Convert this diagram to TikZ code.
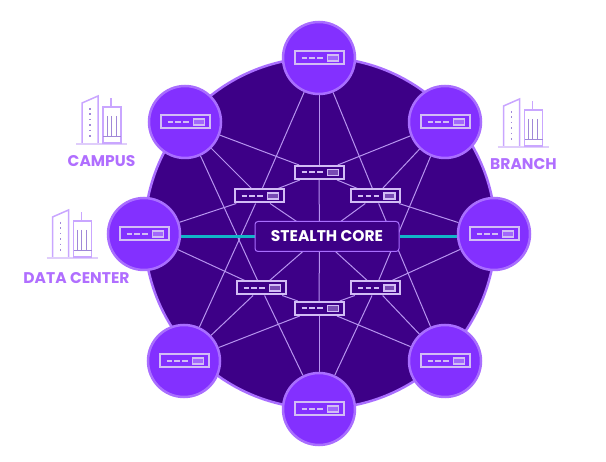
\documentclass[tikz,border=0pt]{standalone}
\usepackage{fontspec}
\setmainfont{Poppins}
\usetikzlibrary{backgrounds}
\definecolor{eDisc}{HTML}{3D0087}
\definecolor{eNode}{HTML}{8330FF}
\definecolor{eRim}{HTML}{A96EFF}
\definecolor{eLine}{HTML}{B794F0}
\definecolor{eIcon}{HTML}{D2BDF5}
\definecolor{eTeal}{HTML}{12B5C8}
\definecolor{eText}{HTML}{B06EFF}
\definecolor{eTower}{HTML}{C9A6FF}
\definecolor{eBase}{HTML}{DFCDFB}
\definecolor{eInner}{HTML}{A088D8}
\tikzset{disc/.style={circle, draw=eRim, fill=eDisc, line width=2.5pt, inner sep=0pt,
  minimum size=351pt}}
\tikzset{v/.style={circle, draw=eRim, fill=eNode, line width=2.5pt, inner sep=0pt,
  minimum size=72pt}}
\tikzset{sw/.style={rectangle, draw=eIcon, line width=2pt, inner sep=0pt,
  minimum width=49pt, minimum height=13pt,
  path picture={
    \draw [eIcon, line width=2pt] (-17.5,0) -- (-12.5,0);
    \draw [eIcon, line width=2pt] (-10,0) -- (-4.5,0);
    \draw [eIcon, line width=2pt] (-2,0) -- (3.5,0);
    \draw [eIcon, line width=1.5pt, fill=eIcon, fill opacity=.4] (8.5,-3) rectangle (19.5,3);
  }}}
\tikzset{swd/.style={sw, fill=eDisc}}
\tikzset{core/.style={rectangle, rounded corners=3pt, draw=eRim, fill=eDisc, line width=1pt,
  inner sep=0pt, minimum width=144pt, minimum height=30pt, text=white,
  font=\fontsize{15.5}{17}\selectfont\bfseries}}
\tikzset{site/.style={text=eText, font=\fontsize{15.5}{17}\selectfont\bfseries}}
\tikzset{m/.style={draw, eLine, line width=1pt}}
\tikzset{t/.style={draw, eTeal, line width=2.5pt}}
\tikzset{
  building/.pic={
    \draw [eBase, line width=2pt] (-25.5,0) -- (25.5,0);
    \draw [eTower, line width=1.5pt] (-19.5,-1) -- (-19.5,-41) -- (-3.5,-48) -- (-3.5,-1);
    \draw [eTower, line width=1.5pt] (1.5,-1) rectangle (19.5,-37);
    \draw [eTower, line width=1.5pt] (9.5,-37) -- (9.5,-46);
    \draw [eInner, line width=1pt] (5.5,-28) -- (5.5,-7);
    \draw [eInner, line width=1pt] (9.5,-28) -- (9.5,-7);
    \draw [eInner, line width=1pt] (14.5,-28) -- (14.5,-7);
    \draw [eInner, line width=1pt] (1.5,-7) -- (19.5,-7);
    \draw [eInner, line width=1.5pt, dash pattern=on 1.6pt off 3.8pt] (-11.5,-36) -- (-11.5,-7);
  }}

\begin{document}
\begin{tikzpicture}[x=1pt, y=-1pt]
  \useasboundingbox (0,0) rectangle (606,462);
  %%
  \node (top) at (319,58) [v] {};
  \node (tl) at (185,122) [v] {};
  \node (tr) at (445,122) [v] {};
  \node (ml) at (144,234) [v] {};
  \node (mr) at (494,234) [v] {};
  \node (bl) at (184,361) [v] {};
  \node (br) at (445,361) [v] {};
  \node (bot) at (319,409) [v] {};
  %%
  \node (stop) at (top) [sw] {};
  \node (stl) at (tl) [sw] {};
  \node (str) at (tr) [sw] {};
  \node (sml) at (ml) [sw] {};
  \node (smr) at (mr) [sw] {};
  \node (sbl) at (bl) [sw] {};
  \node (sbr) at (br) [sw] {};
  \node (sbot) at (bot) [sw] {};
  %%
  \node (a1) at (319,172.5) [swd] {};
  \node (a2) at (259,196) [swd] {};
  \node (a3) at (375.5,196) [swd] {};
  \node (b1) at (319,308.5) [swd] {};
  \node (b2) at (261,288) [swd] {};
  \node (b3) at (375.5,288) [swd] {};
  \node (c) at (327,236.5) [core] {STEALTH CORE};
  \coordinate (h) at (319.5,237);
  %%
  \begin{pgfonlayer}{background}
    \node (d) at (320,233) [disc] {};
    %%
    \path[m] (top) to (a1);
    \path[m] (top) to (a2);
    \path[m] (top) to (a3);
    \path[m] (a1) to (tl);
    \path[m] (a1) to (tr);
    \path[m] (a1) to (a2);
    \path[m] (a1) to (a3);
    \path[m] (a1) to (h);
    %%
    \path[m] (a2) to (tl);
    \path[m] (a2) to (ml);
    \path[m] (a2) to (bl);
    \path[m] (a2) to (h);
    \path[m] (a3) to (tr);
    \path[m] (a3) to (mr);
    \path[m] (a3) to (br);
    \path[m] (a3) to (h);
    %%
    \path[m] (bot) to (b1);
    \path[m] (bot) to (b2);
    \path[m] (bot) to (b3);
    \path[m] (b1) to (bl);
    \path[m] (b1) to (br);
    \path[m] (b1) to (b2);
    \path[m] (b1) to (b3);
    \path[m] (b1) to (h);
    %%
    \path[m] (b2) to (tl);
    \path[m] (b2) to (ml);
    \path[m] (b2) to (bl);
    \path[m] (b2) to (h);
    \path[m] (b3) to (tr);
    \path[m] (b3) to (mr);
    \path[m] (b3) to (br);
    \path[m] (b3) to (h);
    %%
    \path[t] (c) to (c -| ml);
    \path[t] (c) to (c -| mr);
  \end{pgfonlayer}
  %%
  \pic at (101.5,144) {building};
  \pic at (72,258) {building};
  \pic at (523,147) {building};
  \node (campus) at (101.5,161) [site] {CAMPUS};
  \node (branch) at (523.5,164) [site] {BRANCH};
  \node (dc) at (76.5,278) [site] {DATA CENTER};
\end{tikzpicture}
\end{document}
